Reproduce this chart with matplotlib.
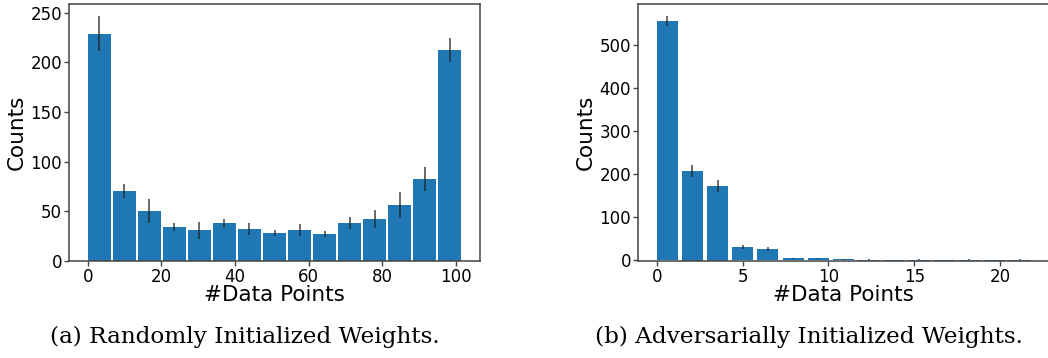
import numpy as np
import matplotlib
matplotlib.use("Agg")
import matplotlib.pyplot as plt

# ---- data: (a) Randomly Initialized Weights ----
bins_a_left = [0.0, 6.8, 13.6, 20.4, 27.2, 34.0, 40.8, 47.6, 54.4, 61.2, 68.0, 74.8, 81.6, 88.4, 95.2]
counts_a = [229, 70.5, 50, 34, 31, 38, 32, 28, 31, 27, 38, 42, 56.5, 82.5, 212.5]
err_a = [17.6, 7.4, 12, 4.2, 8.4, 4, 6.2, 2.9, 5.9, 3, 6, 9, 13.2, 12.3, 12.1]
xticks_a = [0, 20, 40, 60, 80, 100]
yticks_a = [0, 50, 100, 150, 200, 250]

# ---- data: (b) Adversarially Initialized Weights ----
bins_b_left = [0.0, 1.467, 2.933, 4.4, 5.867, 7.333, 8.8, 10.267, 11.733, 13.2, 14.667, 16.133, 17.6, 19.067, 20.533]
counts_b = [555, 205.5, 171.5, 30.7, 26, 4, 4, 1.6, 0, 0, 0, 0, 0, 0, 0]
bottom_b = [0, -2.5, -2.5, 0, 0, 0, 0, 0, -2.5, -2.5, -2.5, -2.5, -2.5, -2.5, -2.5]
err_b = [11, 14, 14, 4.5, 4.5, 1.5, 1.5, 0.8, 1.2, 0.8, 1.2, 0.8, 1.2, 0.8, 1.2]
xticks_b = [0, 5, 10, 15, 20]
yticks_b = [0, 100, 200, 300, 400, 500]

caption_a = "(a) Randomly Initialized Weights."
caption_b = "(b) Adversarially Initialized Weights."
xlabel = "#Data Points"
ylabel = "Counts"

BLUE = "#1f77b4"
SPINE = "#444444"
W, H = 1048, 358

fig = plt.figure(figsize=(W / 100, H / 100), dpi=100)
ax_a = fig.add_axes([69 / W, (H - 261) / H, 411 / W, 257 / H])
ax_b = fig.add_axes([638 / W, (H - 261) / H, 411 / W, 257 / H])

# (a)
heights_a = np.array(counts_a)
ax_a.bar(bins_a_left, heights_a, width=6.25, align="edge", color=BLUE, zorder=2)
ax_a.errorbar(np.array(bins_a_left) + 6.25 / 2, heights_a, yerr=err_a, fmt="none",
              ecolor="#222222", elinewidth=1.1, alpha=0.85, zorder=3)
ax_a.set_ylim(bottom=0)
ax_a.set_xticks(xticks_a)
ax_a.set_yticks(yticks_a)

# (b)
heights_b = np.array(counts_b) - np.array(bottom_b)
ax_b.bar(bins_b_left, heights_b, bottom=bottom_b, width=1.22, align="edge", color=BLUE, zorder=2)
ax_b.errorbar(np.array(bins_b_left) + 1.22 / 2, counts_b, yerr=err_b, fmt="none",
              ecolor="#222222", elinewidth=1.1, alpha=0.85, zorder=3)
ax_b.set_xticks(xticks_b)
ax_b.set_yticks(yticks_b)

for ax in (ax_a, ax_b):
    ax.set_xlabel(xlabel, fontsize=15.5, labelpad=-1)
    ax.set_ylabel(ylabel, fontsize=15.5, labelpad=3)
    ax.tick_params(axis="both", labelsize=12, color=SPINE, length=3.5, width=1, pad=1.5)
    for s in ax.spines.values():
        s.set_color(SPINE)
        s.set_linewidth(1.1)

fig.text(245 / W, 1 - 337 / H, caption_a, ha="center", va="center",
         fontsize=16.7, family="DejaVu Serif")
fig.text(809 / W, 1 - 337 / H, caption_b, ha="center", va="center",
         fontsize=16.7, family="DejaVu Serif")

fig.savefig("out.png", dpi=100)
